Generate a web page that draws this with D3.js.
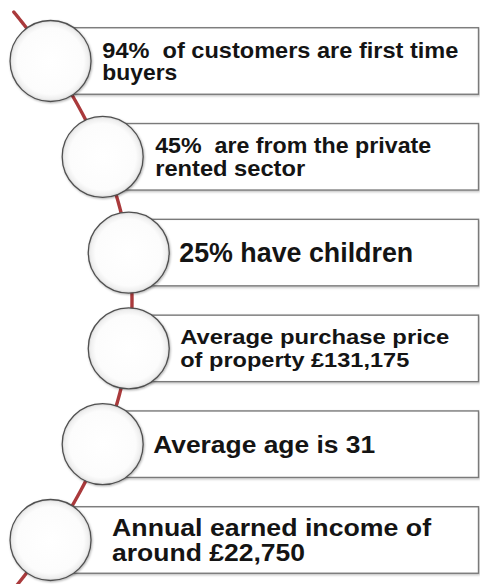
<!DOCTYPE html>
<html>
<head>
<meta charset="utf-8">
<script src="https://cdn.jsdelivr.net/npm/d3@7"></script>
<style>
  html, body { margin: 0; padding: 0; background: #ffffff; }
  svg { display: block; }
</style>
</head>
<body>
<div id="chart"></div>
<script>
// ---- data ----
const items = ["buyers", "rented", "children", "price", "age", "income"];
const labelLines = [
  ["94%  of customers are first time", "buyers"],
  ["45%  are from the private", "rented sector"],
  ["25% have children"],
  ["Average purchase price", "of property £131,175"],
  ["Average age is 31"],
  ["Annual earned income of", "around £22,750"]
];

// ---- layout / style (not data) ----
const W = 480, H = 584;
const fontSizes = [22, 22.2, 27, 20.5, 23.5, 24.2];
const lineHeights = [22.7, 23, 0, 22.6, 0, 25];
const lineWidths = [[356, 75], [276, 150], [234], [269, 229], [222], [319, 193]];
const textDx = [51.8, 52.5, 50.5, 51.5, 50.5, 61.5];
const R = 40.5;
const boxH = 66.5;
const boxRight = 478.5;

const svg = d3.select("#chart").append("svg")
  .attr("width", W).attr("height", H)
  .attr("viewBox", `0 0 ${W} ${H}`);

svg.append("rect").attr("width", W).attr("height", H).attr("fill", "#ffffff");

const defs = svg.append("defs");
const grad = defs.append("radialGradient").attr("id", "cgrad")
  .attr("cx", "50%").attr("cy", "50%").attr("r", "50%");
grad.append("stop").attr("offset", "0%").attr("stop-color", "#ffffff");
grad.append("stop").attr("offset", "82%").attr("stop-color", "#fcfcfc");
grad.append("stop").attr("offset", "94%").attr("stop-color", "#efefef");
grad.append("stop").attr("offset", "100%").attr("stop-color", "#d4d4d4");

const sh = defs.append("filter").attr("id", "bshadow")
  .attr("x", "-5%").attr("y", "-10%").attr("width", "110%").attr("height", "130%");
sh.append("feDropShadow").attr("dx", 1).attr("dy", 1.2).attr("stdDeviation", 0.8)
  .attr("flood-color", "#000").attr("flood-opacity", 0.25);

const csh = defs.append("filter").attr("id", "cshadow")
  .attr("x", "-20%").attr("y", "-20%").attr("width", "140%").attr("height", "140%");
csh.append("feDropShadow").attr("dx", 0.8).attr("dy", 1).attr("stdDeviation", 1)
  .attr("flood-color", "#000").attr("flood-opacity", 0.3);

// vertical position of each row
const y = d3.scalePoint().domain(items).range([61, 540]);

// curved spine: parabola opening left, apex at the middle row
const apexY = (y.range()[0] + y.range()[1]) / 2;
const apexX = 132;
const k = 0.00142;
const spineX = yy => apexX - k * (yy - apexY) * (yy - apexY);

const spineYs = d3.range(12, H + 6, 2);
const line = d3.line().x(d => spineX(d)).y(d => d).curve(d3.curveBasis);

svg.append("path")
  .attr("d", line(spineYs))
  .attr("fill", "none")
  .attr("stroke", "#aa3a3c")
  .attr("stroke-width", 3.4)
  .attr("stroke-linecap", "round");

const rows = svg.selectAll("g.row").data(items).join("g").attr("class", "row");

// boxes
rows.append("rect")
  .attr("x", d => spineX(y(d)))
  .attr("y", d => y(d) - boxH / 2)
  .attr("width", d => boxRight - spineX(y(d)))
  .attr("height", boxH)
  .attr("fill", "#ffffff")
  .attr("stroke", "#7a7a7a")
  .attr("stroke-width", 1.4)
  .attr("filter", "url(#bshadow)");

// circles
rows.append("circle")
  .attr("cx", d => spineX(y(d)))
  .attr("cy", d => y(d))
  .attr("r", R)
  .attr("fill", "url(#cgrad)")
  .attr("stroke", "#505050")
  .attr("stroke-width", 1.3)
  .attr("filter", "url(#cshadow)");

// labels
rows.each(function(d, i) {
  const g = d3.select(this);
  const lines = labelLines[i];
  const fs = fontSizes[i];
  const cap = 0.716 * fs;
  const lh = lineHeights[i];
  const blockH = cap + (lines.length - 1) * lh;
  const firstBase = y(d) - blockH / 2 + cap;
  const x0 = spineX(y(d)) + textDx[i];
  const t = g.append("text")
    .attr("font-family", "'Liberation Sans', Arial, Helvetica, sans-serif")
    .attr("font-weight", "bold")
    .attr("font-size", fs)
    .attr("fill", "#141414");
  lines.forEach((ln, j) => {
    t.append("tspan")
      .attr("x", x0)
      .attr("y", firstBase + j * lh)
      .attr("textLength", lineWidths[i][j])
      .attr("lengthAdjust", "spacingAndGlyphs")
      .attr("xml:space", "preserve")
      .text(ln);
  });
});
</script>
</body>
</html>
